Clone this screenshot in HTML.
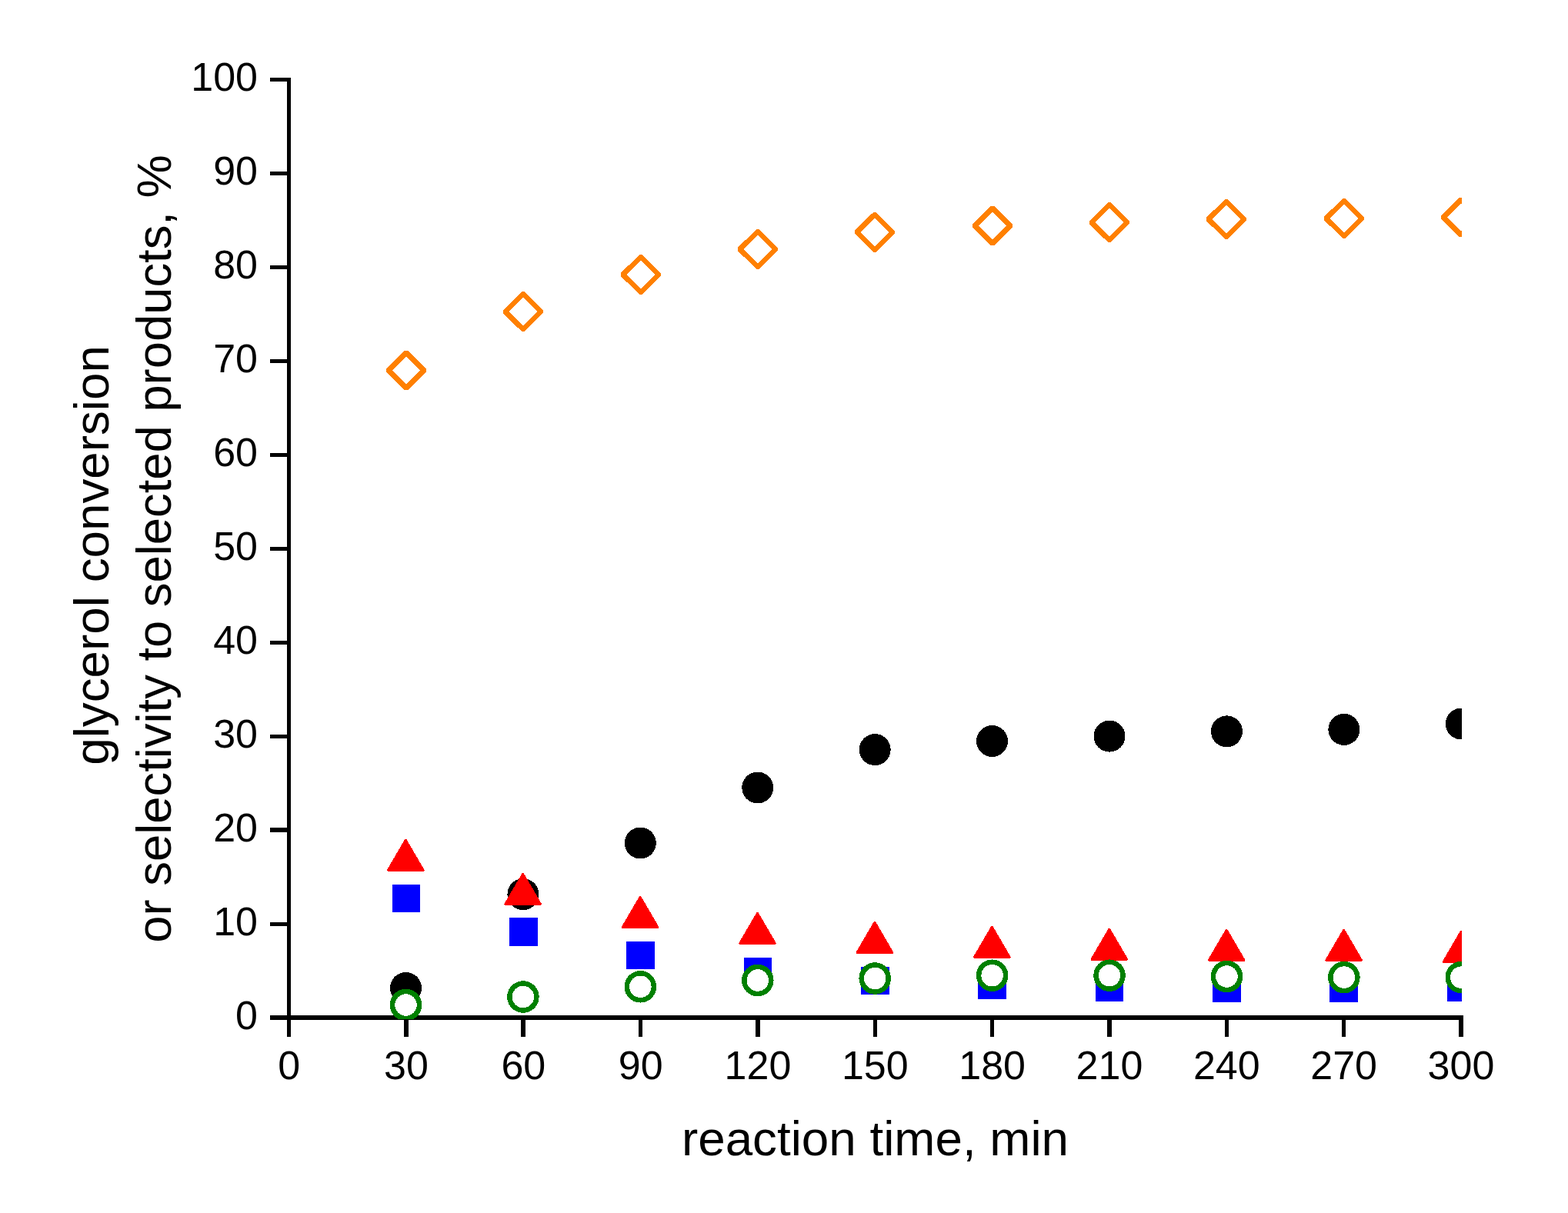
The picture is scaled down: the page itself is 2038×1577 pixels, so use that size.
<!DOCTYPE html>
<html lang="en">
<head>
<meta charset="utf-8">
<title>glycerol conversion or selectivity to selected products vs reaction time</title>
<style>
html,body{margin:0;padding:0;background:#fff;}
body{width:2038px;height:1577px;overflow:hidden;}
svg{display:block;}
text{font-family:"Liberation Sans",Arial,Helvetica,sans-serif;fill:#000;}
.tick{font-size:52px;}
.title{font-size:63.75px;}
</style>
</head>
<body>
<svg width="2038" height="1577" viewBox="0 0 2038 1577" role="img" aria-label="Scatter plot of glycerol conversion or selectivity to selected products versus reaction time">
<rect x="0" y="0" width="2038" height="1577" fill="#ffffff"/>
<defs><clipPath id="plotclip"><rect x="0" y="0" width="1900" height="1325"/></clipPath></defs>
<g fill="#000000" shape-rendering="crispEdges">
<rect x="373" y="101" width="5" height="1247"/>
<rect x="351" y="1320" width="1551" height="6"/>
<rect x="351" y="101" width="27" height="5"/>
<rect x="351" y="223" width="27" height="5"/>
<rect x="351" y="345" width="27" height="5"/>
<rect x="351" y="467" width="27" height="5"/>
<rect x="351" y="589" width="27" height="5"/>
<rect x="351" y="711" width="27" height="5"/>
<rect x="351" y="833" width="27" height="5"/>
<rect x="351" y="955" width="27" height="5"/>
<rect x="351" y="1076" width="27" height="6"/>
<rect x="351" y="1199" width="27" height="5"/>
<rect x="525" y="1320" width="6" height="28"/>
<rect x="677" y="1320" width="6" height="28"/>
<rect x="830" y="1320" width="5" height="28"/>
<rect x="982" y="1320" width="6" height="28"/>
<rect x="1135" y="1320" width="5" height="28"/>
<rect x="1287" y="1320" width="5" height="28"/>
<rect x="1439" y="1320" width="6" height="28"/>
<rect x="1592" y="1320" width="5" height="28"/>
<rect x="1744" y="1320" width="5" height="28"/>
<rect x="1896" y="1320" width="6" height="28"/>
</g>
<g clip-path="url(#plotclip)" shape-rendering="crispEdges">
<g fill="#000000">
<circle cx="527.5" cy="1284.4" r="20.5"/>
<circle cx="679.92" cy="1162.6" r="20.5"/>
<circle cx="832.34" cy="1096" r="20.5"/>
<circle cx="984.77" cy="1024" r="20.5"/>
<circle cx="1137.19" cy="974.6" r="20.5"/>
<circle cx="1289.61" cy="963.5" r="20.5"/>
<circle cx="1442.03" cy="957.1" r="20.5"/>
<circle cx="1594.46" cy="950.9" r="20.5"/>
<circle cx="1746.88" cy="948.4" r="20.5"/>
<circle cx="1899.3" cy="941" r="20.5"/>
</g>
<g fill="#ff0000" stroke="#ff0000" stroke-width="3" stroke-linejoin="round">
<polygon points="527.25,1092.3 550,1131.3 504.5,1131.3"/>
<polygon points="679.67,1136.4 702.42,1175.4 656.92,1175.4"/>
<polygon points="832.09,1166.4 854.84,1205.4 809.34,1205.4"/>
<polygon points="984.52,1187.4 1007.27,1226.4 961.77,1226.4"/>
<polygon points="1136.94,1199.3 1159.69,1238.3 1114.19,1238.3"/>
<polygon points="1289.36,1205.3 1312.11,1244.3 1266.61,1244.3"/>
<polygon points="1441.78,1208.2 1464.53,1247.2 1419.03,1247.2"/>
<polygon points="1594.21,1209.3 1616.96,1248.3 1571.46,1248.3"/>
<polygon points="1746.63,1209.3 1769.38,1248.3 1723.88,1248.3"/>
<polygon points="1899.05,1211.3 1921.8,1250.3 1876.3,1250.3"/>
</g>
<g fill="#0000ff">
<rect x="509.7" y="1149.5" width="36.6" height="36.6"/>
<rect x="662.04" y="1193" width="36.6" height="36.6"/>
<rect x="814.37" y="1223.5" width="36.6" height="36.6"/>
<rect x="966.7" y="1245" width="36.6" height="36.6"/>
<rect x="1119.04" y="1256.7" width="36.6" height="36.6"/>
<rect x="1271.37" y="1262.1" width="36.6" height="36.6"/>
<rect x="1423.7" y="1265.3" width="36.6" height="36.6"/>
<rect x="1576.03" y="1266.1" width="36.6" height="36.6"/>
<rect x="1728.37" y="1266.4" width="36.6" height="36.6"/>
<rect x="1880.7" y="1265.2" width="36.6" height="36.6"/>
</g>
<g fill="#ff8000" fill-rule="evenodd">
<path d="M525.95,455.6 L529.95,455.6 L553.75,479.4 L553.75,483.4 L529.95,507.2 L525.95,507.2 L501.95,483.4 L501.95,479.4 Z M527.95,463.2 L509.75,481.4 L527.95,499.6 L546.15,481.4 Z"/>
<path d="M677.95,379.3 L681.95,379.3 L705.75,403.1 L705.75,407.1 L681.95,430.9 L677.95,430.9 L653.95,407.1 L653.95,403.1 Z M679.95,386.9 L661.75,405.1 L679.95,423.3 L698.15,405.1 Z"/>
<path d="M830.95,331.2 L834.95,331.2 L858.75,355 L858.75,359 L834.95,382.8 L830.95,382.8 L806.95,359 L806.95,355 Z M832.95,338.8 L814.75,357 L832.95,375.2 L851.15,357 Z"/>
<path d="M982.95,298.2 L986.95,298.2 L1010.75,322 L1010.75,326 L986.95,349.8 L982.95,349.8 L958.95,326 L958.95,322 Z M984.95,305.8 L966.75,324 L984.95,342.2 L1003.15,324 Z"/>
<path d="M1134.95,276.1 L1138.95,276.1 L1162.75,299.9 L1162.75,303.9 L1138.95,327.7 L1134.95,327.7 L1110.95,303.9 L1110.95,299.9 Z M1136.95,283.7 L1118.75,301.9 L1136.95,320.1 L1155.15,301.9 Z"/>
<path d="M1287.95,267.6 L1291.95,267.6 L1315.75,291.4 L1315.75,295.4 L1291.95,319.2 L1287.95,319.2 L1263.95,295.4 L1263.95,291.4 Z M1289.95,275.2 L1271.75,293.4 L1289.95,311.6 L1308.15,293.4 Z"/>
<path d="M1439.95,263.3 L1443.95,263.3 L1467.75,287.1 L1467.75,291.1 L1443.95,314.9 L1439.95,314.9 L1415.95,291.1 L1415.95,287.1 Z M1441.95,270.9 L1423.75,289.1 L1441.95,307.3 L1460.15,289.1 Z"/>
<path d="M1591.95,259.2 L1595.95,259.2 L1619.75,283 L1619.75,287 L1595.95,310.8 L1591.95,310.8 L1567.95,287 L1567.95,283 Z M1593.95,266.8 L1575.75,285 L1593.95,303.2 L1612.15,285 Z"/>
<path d="M1744.95,258.2 L1748.95,258.2 L1772.75,282 L1772.75,286 L1748.95,309.8 L1744.95,309.8 L1720.95,286 L1720.95,282 Z M1746.95,265.8 L1728.75,284 L1746.95,302.2 L1765.15,284 Z"/>
<path d="M1896.95,256.6 L1900.95,256.6 L1924.75,280.4 L1924.75,284.4 L1900.95,308.2 L1896.95,308.2 L1872.95,284.4 L1872.95,280.4 Z M1898.95,264.2 L1880.75,282.4 L1898.95,300.6 L1917.15,282.4 Z"/>
</g>
<g fill="#ffffff" stroke="#008000" stroke-width="6.5">
<circle cx="527.5" cy="1306.5" r="17.5"/>
<circle cx="679.92" cy="1296" r="17.5"/>
<circle cx="832.34" cy="1282.8" r="17.5"/>
<circle cx="984.77" cy="1274.5" r="17.5"/>
<circle cx="1137.19" cy="1272" r="17.5"/>
<circle cx="1289.61" cy="1268.2" r="17.5"/>
<circle cx="1442.03" cy="1268.2" r="17.5"/>
<circle cx="1594.46" cy="1269.5" r="17.5"/>
<circle cx="1746.88" cy="1270.6" r="17.5"/>
<circle cx="1899.3" cy="1270.6" r="17.5"/>
</g>
</g>
<g class="tick" text-anchor="end">
<text x="335" y="118.3">100</text>
<text x="335" y="240.3">90</text>
<text x="335" y="362.3">80</text>
<text x="335" y="484.3">70</text>
<text x="335" y="606.3">60</text>
<text x="335" y="728.3">50</text>
<text x="335" y="850.3">40</text>
<text x="335" y="972.3">30</text>
<text x="335" y="1094.3">20</text>
<text x="335" y="1216.3">10</text>
<text x="335" y="1338.3">0</text>
</g>
<g class="tick" text-anchor="middle">
<text x="375.67" y="1403.4">0</text>
<text x="528" y="1403.4">30</text>
<text x="680.34" y="1403.4">60</text>
<text x="832.67" y="1403.4">90</text>
<text x="985" y="1403.4">120</text>
<text x="1137.34" y="1403.4">150</text>
<text x="1289.67" y="1403.4">180</text>
<text x="1442" y="1403.4">210</text>
<text x="1594.33" y="1403.4">240</text>
<text x="1746.67" y="1403.4">270</text>
<text x="1899" y="1403.4">300</text>
</g>
<g class="title" text-anchor="middle">
<text x="1137.5" y="1501.5">reaction time, min</text>
<text transform="translate(141.2,721.9) rotate(-90)">glycerol conversion</text>
<text transform="translate(222,713.4) rotate(-90)" style="font-size:63.35px">or selectivity to selected products, %</text>
</g>
</svg>
</body>
</html>
